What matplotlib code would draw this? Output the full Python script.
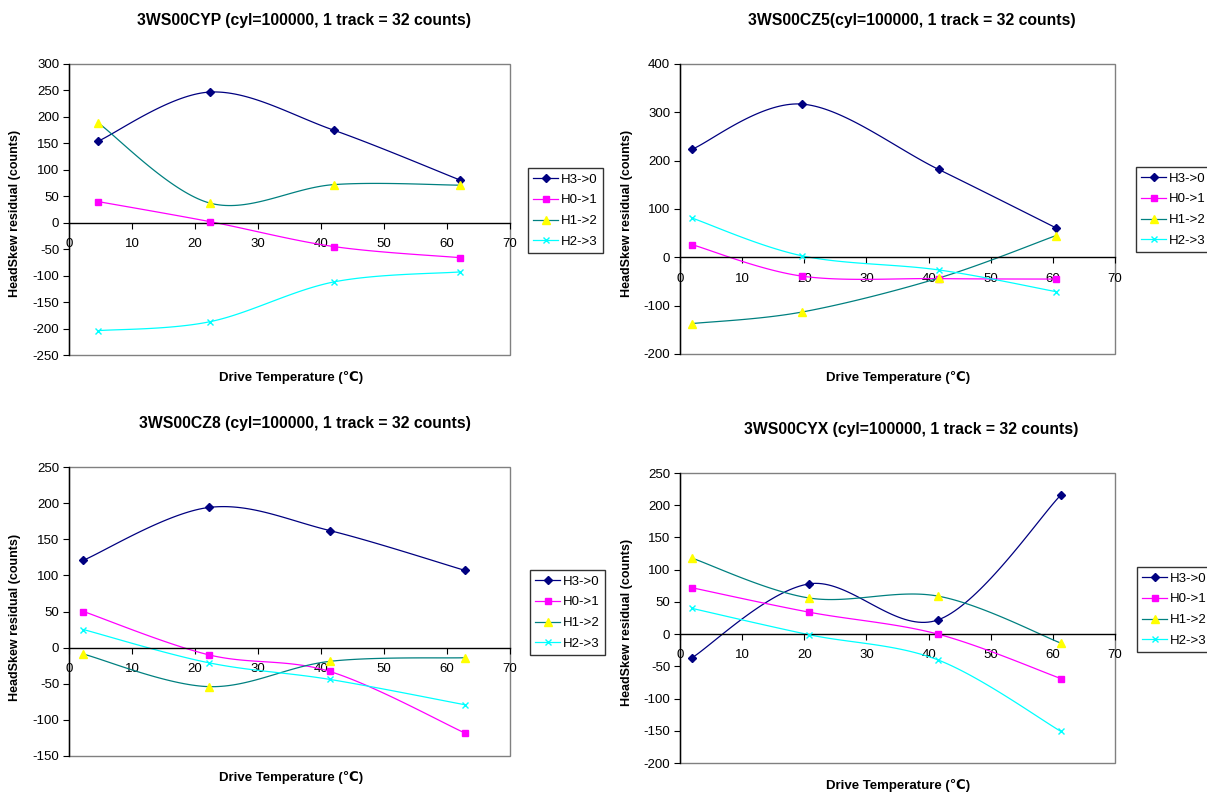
import numpy as np
import matplotlib
matplotlib.use("Agg")
import matplotlib.pyplot as plt
from matplotlib.patches import Rectangle
from matplotlib.lines import Line2D

plt.rcParams['font.family'] = ['Liberation Sans', 'DejaVu Sans']
plt.rcParams['axes.unicode_minus'] = False

series_names = ["H3->0", "H0->1", "H1->2", "H2->3"]

# 3WS00CYP
cyp_temp = [4.6, 22.4, 42.0, 62.0]
cyp_h30 = [154, 247, 175, 81]
cyp_h01 = [40, 2, -45, -66]
cyp_h12 = [189, 37, 72, 71]
cyp_h23 = [-204, -187, -112, -93]

# 3WS00CZ5
cz5_temp = [2.0, 19.7, 41.6, 60.5]
cz5_h30 = [224, 317, 182, 61]
cz5_h01 = [26, -39, -44, -45]
cz5_h12 = [-137, -113, -43, 45]
cz5_h23 = [81, 3, -26, -71]

# 3WS00CZ8
cz8_temp = [2.3, 22.2, 41.4, 62.8]
cz8_h30 = [121, 194, 162, 107]
cz8_h01 = [50, -10, -33, -118]
cz8_h12 = [-9, -54, -19, -14]
cz8_h23 = [25, -21, -44, -79]

# 3WS00CYX
cyx_temp = [1.9, 20.8, 41.5, 61.3]
cyx_h30 = [-37, 78, 22, 216]
cyx_h01 = [72, 34, 0, -69]
cyx_h12 = [118, 56, 59, -14]
cyx_h23 = [40, -1, -40, -151]

titles = ["3WS00CYP (cyl=100000, 1 track = 32 counts)",
          "3WS00CZ5(cyl=100000, 1 track = 32 counts)",
          "3WS00CZ8 (cyl=100000, 1 track = 32 counts)",
          "3WS00CYX (cyl=100000, 1 track = 32 counts)"]
xlabel = "Drive Temperature (℃)"
ylabel = "HeadSkew residual (counts)"

W, H = 1207, 793
fig = plt.figure(figsize=(W / 100, H / 100), dpi=100)
fig.patch.set_facecolor('white')


def smooth(x, y, n=40):
    x = np.asarray(x, float); y = np.asarray(y, float)
    P = np.column_stack([x, y])
    Pe = np.vstack([P[0], P, P[-1]])
    out = []
    t = np.linspace(0, 1, n)[:, None]
    for i in range(len(P) - 1):
        p0, p1, p2, p3 = Pe[i], Pe[i + 1], Pe[i + 2], Pe[i + 3]
        c1 = p1 + (p2 - p0) / 6.0
        c2 = p2 - (p3 - p1) / 6.0
        seg = ((1 - t) ** 3) * p1 + 3 * ((1 - t) ** 2) * t * c1 + 3 * (1 - t) * t ** 2 * c2 + t ** 3 * p2
        out.append(seg if i == 0 else seg[1:])
    s = np.vstack(out)
    return s[:, 0], s[:, 1]


styles = [
    dict(color='#000080', marker='D', mfc='#000080', mec='#000080', ms=4.5),
    dict(color='#FF00FF', marker='s', mfc='#FF00FF', mec='#FF00FF', ms=5),
    dict(color='#008080', marker='^', mfc='#FFFF00', mec='#FFFF00', ms=5.5),
    dict(color='#00FFFF', marker='x', mfc='#00FFFF', mec='#00FFFF', ms=5),
]

panels = [
    dict(temp=cyp_temp, data=[cyp_h30, cyp_h01, cyp_h12, cyp_h23], ylim=(-250, 300), ystep=50,
         box=(69, 64, 510, 355), title=(304, 21), xl=(291, 377), yl=(15, 213), leg=(528, 168)),
    dict(temp=cz5_temp, data=[cz5_h30, cz5_h01, cz5_h12, cz5_h23], ylim=(-200, 400), ystep=100,
         box=(680, 64, 1115, 354), title=(912, 20), xl=(898, 377), yl=(627, 213), leg=(1136, 167)),
    dict(temp=cz8_temp, data=[cz8_h30, cz8_h01, cz8_h12, cz8_h23], ylim=(-150, 250), ystep=50,
         box=(69, 467, 510, 756), title=(305, 423), xl=(291, 778), yl=(15, 617), leg=(530, 570)),
    dict(temp=cyx_temp, data=[cyx_h30, cyx_h01, cyx_h12, cyx_h23], ylim=(-200, 250), ystep=50,
         box=(680, 473, 1115, 763), title=(911, 429), xl=(898, 786), yl=(627, 622), leg=(1137, 567)),
]

for p, title in zip(panels, titles):
    l, t, r, b = p['box']
    ax = fig.add_axes([l / W, 1 - b / H, (r - l) / W, (b - t) / H])
    ax.set_xlim(0, 70)
    ax.set_ylim(*p['ylim'])
    ax.set_xticks(np.arange(0, 71, 10))
    ax.set_yticks(np.arange(p['ylim'][0], p['ylim'][1] + 1, p['ystep']))
    for sp in ['top', 'right']:
        ax.spines[sp].set_visible(False)
    ax.spines['left'].set_color('black')
    ax.spines['left'].set_linewidth(1.0)
    ax.spines['bottom'].set_position(('data', 0))
    ax.spines['bottom'].set_color('black')
    ax.spines['bottom'].set_linewidth(1.0)
    ax.add_patch(Rectangle((0, 0), 1, 1, transform=ax.transAxes, fill=False,
                           edgecolor='#808080', lw=1.0, zorder=0.5, clip_on=False))
    ax.tick_params(axis='both', direction='out', length=4, width=0.8, labelsize=9.5, pad=3)
    ax.tick_params(axis='x', pad=7)
    handles = []
    for name, ys, st in zip(series_names, p['data'], styles):
        sx, sy = smooth(p['temp'], ys)
        ax.plot(sx, sy, color=st['color'], lw=0.9, zorder=2)
        ax.plot(p['temp'], ys, ls='none', marker=st['marker'], mfc=st['mfc'], mec=st['mec'],
                ms=st['ms'], zorder=3, clip_on=False)
        handles.append(Line2D([], [], color=st['color'], lw=0.9, marker=st['marker'],
                              mfc=st['mfc'], mec=st['mec'], ms=st['ms'], label=name))
    leg = fig.legend(handles=handles, loc='upper left',
                     bbox_to_anchor=(p['leg'][0] / W, 1 - p['leg'][1] / H),
                     bbox_transform=fig.transFigure, borderaxespad=0, frameon=True,
                     fancybox=False, edgecolor='black', fontsize=9.5, handlelength=1.9,
                     handletextpad=0.2, labelspacing=0.65, borderpad=0.4, markerscale=1.0)
    leg.get_frame().set_linewidth(1.0)
    fig.text(p['title'][0] / W, 1 - p['title'][1] / H, title, ha='center', va='center',
             fontsize=11.3, fontweight='bold')
    fig.text(p['xl'][0] / W, 1 - p['xl'][1] / H, xlabel, ha='center', va='center',
             fontsize=9.5, fontweight='bold')
    fig.text(p['yl'][0] / W, 1 - p['yl'][1] / H, ylabel, ha='center', va='center',
             fontsize=9, fontweight='bold', rotation=90)

fig.savefig('out.png', dpi=100, facecolor='white')
